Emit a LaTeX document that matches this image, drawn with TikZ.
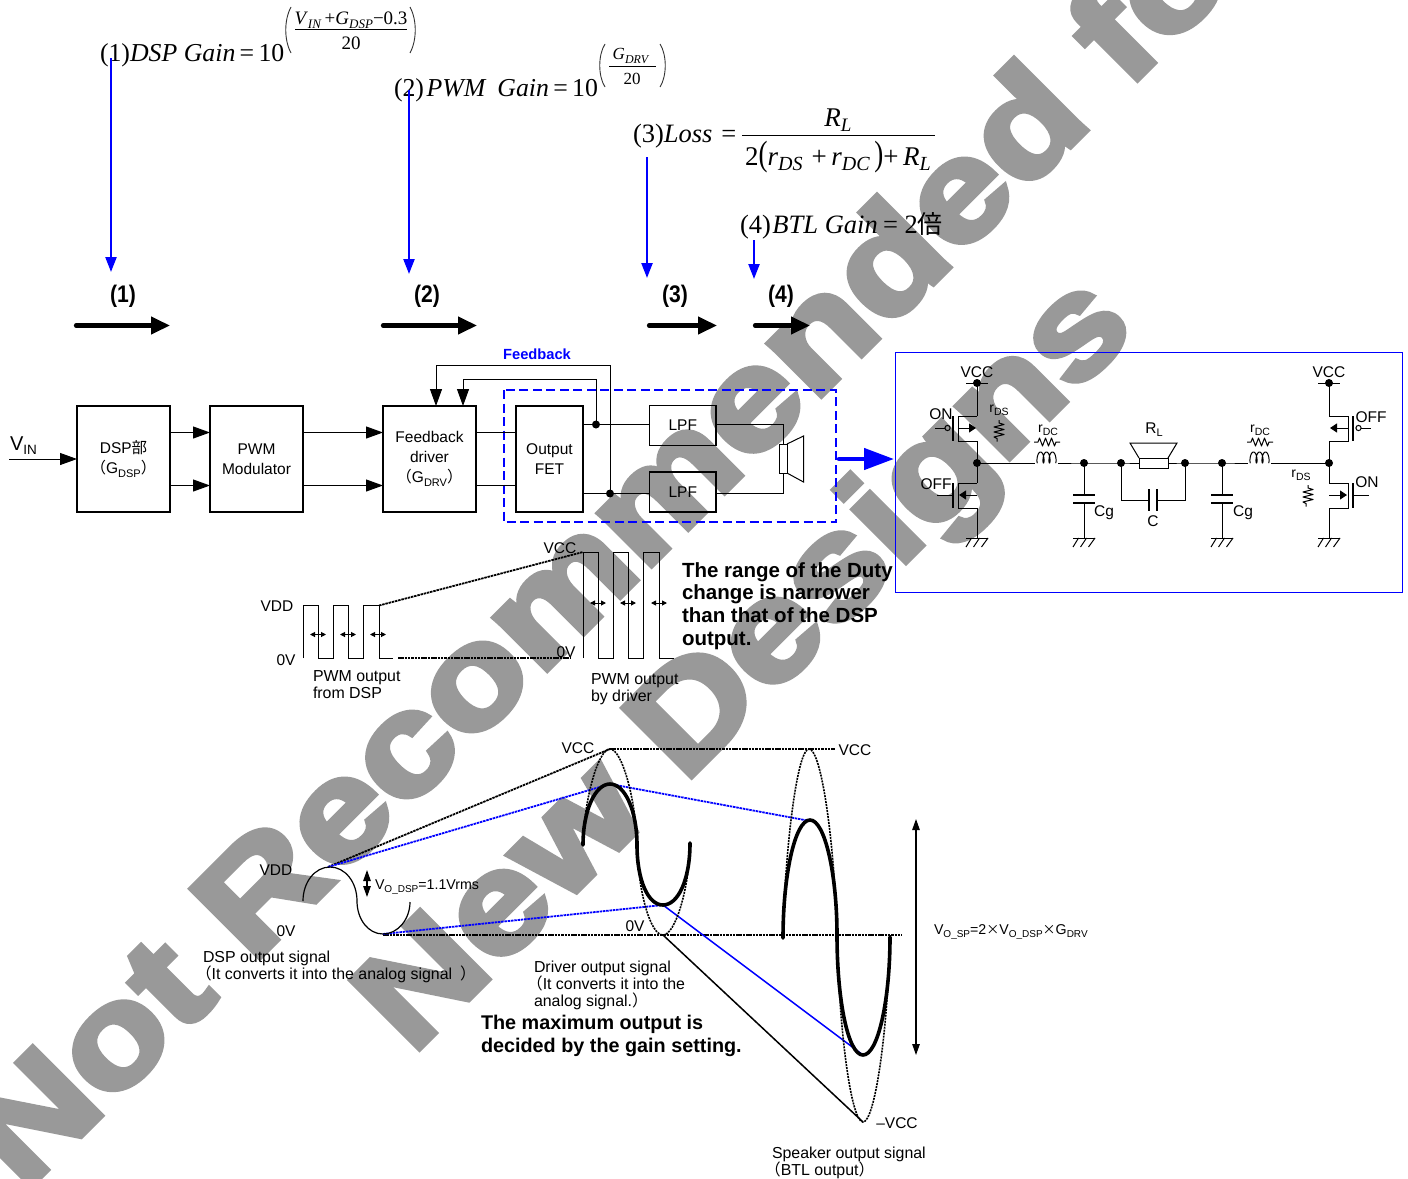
\documentclass[tikz,border=0pt]{standalone}
\usepackage{fontspec}
\setmainfont{Liberation Sans}
\newfontfamily\serif{Liberation Serif}
\newfontfamily\cjk{Noto Sans CJK JP}
\newfontfamily\wmf[BoldFeatures={FakeBold=4}]{Liberation Sans}
\usetikzlibrary{arrows.meta}
\newcommand\fsz[1]{\fontsize{#1}{#1}\selectfont}
\newcommand\dn[2]{\raisebox{-0.22em}{\fsz{#1}#2}}
\definecolor{wm}{HTML}{999999}
\definecolor{bl}{HTML}{0000FF}
\tikzset{
  x=1pt,y=-1pt,
  every node/.style={inner sep=0pt,outer sep=0pt},
  wire/.style={line width=1pt,black},
  blk/.style={draw,line width=1.1pt,align=center,font=\fontsize{15.5}{20}\selectfont},
  harr/.style={wire,-{Triangle[length=17pt,width=12pt]}},
  bigarr/.style={line width=4.2pt,line cap=round,-{Triangle[length=19pt,width=17pt]}},
  bluearr/.style={line width=2.3pt,bl,-{Triangle[length=15pt,width=11pt]}},
  dotn/.style={circle,fill=black,minimum size=8pt},
  lab/.style={font=\fsz{15.5}},
  para/.style={anchor=north west,align=left,font=\fontsize{15.9}{16.7}\selectfont},
  boldp/.style={anchor=north west,align=left,font=\fontsize{20.5}{22.6}\selectfont\bfseries},
  boldq/.style={anchor=north west,align=left,font=\fontsize{19.8}{22.6}\selectfont\bfseries},
  mth/.style={anchor=base west,font=\serif},
  dsh/.style={line width=1.8pt,dash pattern=on 2.5pt off .8pt},
  thick2/.style={line width=3.6pt,line cap=round},
  sdash/.style={line width=1.6pt,dash pattern=on 2pt off 1pt},
  dbl/.style={line width=1pt,arrows={Triangle[length=5pt,width=5pt]-Triangle[length=5pt,width=5pt]}},
  dbl2/.style={line width=1.2pt,arrows={Triangle[length=11pt,width=7.5pt]-Triangle[length=11pt,width=7.5pt]}},
  paren/.style={line width=.9pt,black!80},
  numl/.style={font=\fsz{24}\bfseries},
}
\newcommand\gnd[1]{%
  \draw[wire] (#1-11,538) -- (#1+11,538);
  \draw[wire] (#1-5.5,538) -- (#1-11,547);
  \draw[wire] (#1+2.5,538) -- (#1-3.5,547);
  \draw[wire] (#1+11,538) -- (#1+4.5,547);}
\newcommand\coil[1]{%
  \draw[wire] plot[domain=0:1080,samples=100,smooth] ({#1+2.5+\x/60-1.8*sin(\x)},{463-11*(1-cos(\x))/2});}
\newcommand\resh[2]{%
  \draw[wire,line join=round] (#1,#2) -- ++(4,0) -- ++(1.5,-4) -- ++(3,8) -- ++(3,-8) -- ++(3,8) -- ++(3,-8) -- ++(3,8) -- ++(1.5,-4) -- ++(4,0);}
\newcommand\resv[2]{%
  \draw[wire,line join=round] (#1,#2) -- ++(0,3) -- ++(5,1.5) -- ++(-10,2.5) -- ++(10,2.5) -- ++(-10,2.5) -- ++(10,2.5) -- ++(-10,2.5) -- ++(3,1.5) -- ++(0,3);}
\newcommand\fethi[3]{%
  \begin{scope}[shift={(#1,#2)},xscale=#3]
    \draw[wire] (0,0) -- (-19,0) -- (-19,25) -- (0,25);
    \draw[line width=1.3pt] (-24,0) -- (-24,25);
    \draw[line width=1pt] (-29.5,12) circle (2.6);
    \draw[wire] (-32,12) -- (-42,12);
    \draw[wire,-{Triangle[length=7pt,width=9pt]}] (-19,12) -- (-1,12);
  \end{scope}}
\newcommand\fetlo[3]{%
  \begin{scope}[shift={(#1,#2)},xscale=#3]
    \draw[wire] (0,0) -- (-19,0) -- (-19,25) -- (0,25);
    \draw[line width=1.3pt] (-24,0) -- (-24,25);
    \draw[wire] (-24,12) -- (-40,12);
    \draw[wire,-{Triangle[length=7pt,width=9pt]}] (0,12) -- (-18,12);
  \end{scope}}
\begin{document}
\begin{tikzpicture}
\useasboundingbox (0,0) rectangle (1408,1178);
\fill[white] (0,0) rectangle (1408,1178);
% watermark
\begin{scope}
\clip (0,0) rectangle (1408,1178);
\node[rotate=45,anchor=base west,text=wm,font=\wmf\fsz{141}\bfseries] (wm1) at (24,1193) {\scalebox{1.178}[1]{Not Recommended for}};
\node[rotate=45,anchor=base west,text=wm,font=\wmf\fsz{141}\bfseries] (wm2) at (412,1056) {\scalebox{1.17}[1]{New Designs}};
\end{scope}

% formulas
\node[mth] (f1) at (100,61) {\fsz{25.8}(1)\textit{DSP Gain}\,=\,10};
\coordinate (b1a) at (295,29.5); \coordinate (b1b) at (407,29.5);
\draw[line width=1pt] (b1a) -- (b1b);
\node[mth,anchor=base] (f1n) at (351,24) {\fsz{19}\textit{V}\dn{13}{\textit{IN}}\,+\textit{G}\dn{13}{\textit{DSP}}−0.3};
\node[mth,anchor=base] (f1d) at (351,49) {\fsz{19}20};
\draw[paren] (291,7) .. controls (284,20) and (284,40) .. (291,53);
\draw[paren] (410,7) .. controls (417,20) and (417,40) .. (410,53);

\node[mth] (f2) at (394,96) {\fsz{25.8}(2)\hspace{.1em}\textit{PWM}\hspace{.42em}\textit{Gain}\,=\,10};
\draw[line width=1pt] (609,66) -- (656,66);
\node[mth,anchor=base] (f2n) at (631,59.5) {\fsz{17}\textit{G}\dn{12}{\textit{DRV}}};
\node[mth,anchor=base] (f2d) at (632,84) {\fsz{17}20};
\draw[paren] (605,44) .. controls (598,55) and (598,76) .. (605,87);
\draw[paren] (660,44) .. controls (667,55) and (667,76) .. (660,87);

\node[mth] (f3) at (633,142) {\fsz{26.5}(3)\textit{Loss}\,\,=};
\draw[line width=1pt] (742,135) -- (935,135);
\node[mth,anchor=base] (f3n) at (838,126) {\fsz{27}\textit{R}\dn{19}{\textit{L}}};
\node[mth] (f3d) at (745,165) {\fsz{27}2\scalebox{1}[1.3]{(}\textit{r}\dn{20}{\textit{DS}}\,\,+\,\textit{r}\dn{20}{\textit{DC}}\,\scalebox{1}[1.3]{)}+\,\textit{R}\dn{20}{\textit{L}}};

\node[mth] (f4) at (740,233) {\fsz{26.5}(4)\hspace{.06em}\textit{BTL Gain}\hspace{.2em}=\hspace{.25em}2{\cjk\fsz{25}倍}};

% blue arrows
\coordinate (ba1) at (111,58); \coordinate (bb1) at (111,272);
\coordinate (ba2) at (409,90); \coordinate (bb2) at (409,274);
\coordinate (ba3) at (647,157); \coordinate (bb3) at (647,278);
\coordinate (ba4) at (754,240); \coordinate (bb4) at (754,279);
\draw[bluearr] (ba1) -- (bb1);
\draw[bluearr] (ba2) -- (bb2);
\draw[bluearr] (ba3) -- (bb3);
\draw[bluearr] (ba4) -- (bb4);

% numbered arrows
\node[numl] (n1) at (123,296) {\scalebox{.88}[1]{(1)}};
\node[numl] (n2) at (427,296) {\scalebox{.88}[1]{(2)}};
\node[numl] (n3) at (675,296) {\scalebox{.88}[1]{(3)}};
\node[numl] (n4) at (781,296) {\scalebox{.88}[1]{(4)}};
\coordinate (k1a) at (76,325.5); \coordinate (k1b) at (170,325.5);
\coordinate (k2a) at (383,325.5); \coordinate (k2b) at (477,325.5);
\coordinate (k3a) at (649,325.5); \coordinate (k3b) at (717,325.5);
\coordinate (k4a) at (755,325.5); \coordinate (k4b) at (810,325.5);
\draw[bigarr] (k1a) -- (k1b);
\draw[bigarr] (k2a) -- (k2b);
\draw[bigarr] (k3a) -- (k3b);
\draw[bigarr] (k4a) -- (k4b);

% blocks
\node[blk,minimum width=93pt,minimum height=106pt] (dsp) at (123.5,459) {DSP{\cjk\fsz{15.5}部}\\{\cjk （}G\dn{11}{DSP}{\cjk ）}};
\node[blk,minimum width=93pt,minimum height=106pt] (pwm) at (256.5,459) {PWM\\Modulator};
\node[blk,minimum width=93pt,minimum height=106pt] (drv) at (429.5,459) {Feedback\\driver\\{\cjk （}G\dn{11}{DRV}{\cjk ）}};
\node[blk,minimum width=67pt,minimum height=106pt] (fet) at (549.5,459) {Output\\FET};
\node[blk,minimum width=66.5pt,minimum height=39.5pt] (lpfa) at (682.75,425.5) {LPF};
\node[blk,minimum width=66.5pt,minimum height=40pt] (lpfb) at (682.75,492) {LPF};
\draw[line width=2pt,bl,dash pattern=on 9pt off 4.5pt] (503.5,390) rectangle (836,522);
\node[anchor=base,font=\fsz{14.7}\bfseries,text=bl] (fb) at (537,359) {Feedback};

% block connectors
\coordinate (vin) at (9,459);
\node[anchor=base west] (vint) at (10,450) {\fsz{20}V\dn{13.5}{IN}};
\draw[harr] (vin) -- (dsp.west);
\draw[harr] (dsp.east |- 0,432.5) -- (pwm.west |- 0,432.5);
\draw[harr] (dsp.east |- 0,485.5) -- (pwm.west |- 0,485.5);
\draw[harr] (pwm.east |- 0,432.5) -- (drv.west |- 0,432.5);
\draw[harr] (pwm.east |- 0,485.5) -- (drv.west |- 0,485.5);
\draw[wire] (drv.east |- 0,432.5) -- (fet.west |- 0,432.5);
\draw[wire] (drv.east |- 0,485.5) -- (fet.west |- 0,485.5);
\node[dotn] (fa) at (596,424.5) {};
\node[dotn] (fbd) at (610,493.5) {};
\draw[wire] (fet.east |- fa) -- (fa.center) -- (lpfa.west |- fa);
\draw[wire] (fet.east |- fbd) -- (fbd.center) -- (lpfb.west |- fbd);
\draw[harr] (fa.center) -- (596,379) -- (463,379) -- (463,406);
\draw[harr] (fbd.center) -- (610,365) -- (436,365) -- (436,406);
% speaker
\node[draw,line width=1pt,minimum width=8pt,minimum height=29pt] (spk) at (783,458.5) {};
\draw[wire,line join=miter] (spk.north east) -- (803.5,436) -- (803.5,482) -- (spk.south east);
\draw[wire] (lpfa.east |- fa) -- (783,424.5) -- (spk.north);
\draw[wire] (lpfb.east |- fbd) -- (783,493.5) -- (spk.south);
% thick blue arrow
\coordinate (tb1) at (839,459); \coordinate (tb2) at (894,459);
\draw[line width=4.5pt,bl,line cap=round,-{Triangle[length=30pt,width=21pt]}] (tb1) -- (tb2);

% circuit
\draw[line width=1pt,bl] (895,352) rectangle (1402,592);
\node[dotn] (vl) at (977,383) {};
\node[dotn] (vr) at (1329,383) {};
\node[dotn] (jl) at (977,463) {};
\node[dotn] (jr) at (1329,463) {};
\node[dotn] (j1) at (1084,463) {};
\node[dotn] (j2) at (1121,463) {};
\node[dotn] (j3) at (1185,463) {};
\node[dotn] (j4) at (1222,463) {};
\draw[wire] (966,383) -- (988,383);
\draw[wire] (1318,383) -- (1340,383);
\node[lab] (tv1) at (977,372.5) {VCC};
\node[lab] (tv2) at (1329,372.5) {VCC};
\draw[wire] (vl.center) -- (977,416);
\draw[wire] (977,441) -- (jl.center) -- (977,483);
\draw[wire] (977,508) -- (977,538);
\draw[wire] (vr.center) -- (1329,416);
\draw[wire] (1329,441) -- (jr.center) -- (1329,483);
\draw[wire] (1329,508) -- (1329,538);
\fethi{977}{416}{1}
\fetlo{977}{483}{1}
\fethi{1329}{416}{-1}
\fetlo{1329}{483}{-1}
\node[lab] (ton1) at (941,414.5) {ON};
\node[lab] (tof1) at (936,484.5) {OFF};
\node[lab] (tof2) at (1371,417) {OFF};
\node[lab] (ton2) at (1367,482.5) {ON};
\gnd{977}\gnd{1084}\gnd{1222}\gnd{1329}
% main line and inductors
\draw[wire] (jl.center) -- (1035,463);
\coil{1035}
\draw[wire] (1058,463) -- (j1.center) -- (j2.center) -- (1139,463);
\draw[wire] (1168,463) -- (j3.center) -- (j4.center) -- (1248,463);
\coil{1248}
\draw[wire] (1271,463) -- (jr.center);
\resh{1034}{442}
\resh{1247}{442}
\resv{999}{420}
\resv{1308}{485}
\node[anchor=base] (tr1) at (999,412) {\fsz{14}r\dn{10.5}{DS}};
\node[anchor=base] (tr2) at (1048,432) {\fsz{14}r\dn{10.5}{DC}};
\node[anchor=base] (tr3) at (1260,432) {\fsz{14}r\dn{10.5}{DC}};
\node[anchor=base] (tr4) at (1301,477) {\fsz{14}r\dn{10.5}{DS}};
% speaker in circuit
\node[draw,line width=1pt,minimum width=29pt,minimum height=10pt] (rl) at (1153.5,463) {};
\draw[wire] (rl.north west) -- (1130,443) -- (1177,443) -- (rl.north east);
\node[anchor=base] (trl) at (1154,433) {\fsz{15.5}R\dn{11}{L}};
% caps
\draw[wire] (j1.center) -- (1084,495);
\draw[wire] (1084,503) -- (1084,538);
\draw[line width=1.3pt] (1073,495) -- (1095,495);
\draw[line width=1.3pt] (1073,503) -- (1095,503);
\draw[wire] (j4.center) -- (1222,495);
\draw[wire] (1222,503) -- (1222,538);
\draw[line width=1.3pt] (1211,495) -- (1233,495);
\draw[line width=1.3pt] (1211,503) -- (1233,503);
\draw[wire] (j2.center) -- (1121,500) -- (1149,500);
\draw[wire] (j3.center) -- (1185,500) -- (1157,500);
\draw[line width=1.3pt] (1149,489) -- (1149,511);
\draw[line width=1.3pt] (1157,489) -- (1157,511);
\node[lab] (tcg1) at (1104,513) {Cg};
\node[lab] (tcg2) at (1243,513) {Cg};
\node[lab] (tc) at (1153,521.5) {C};

% PWM waveforms
\draw[wire] (303,658) -- (303,605.5) -- (318,605.5) -- (318,658) -- (333,658) -- (333,605.5) -- (348,605.5) -- (348,658) -- (363,658) -- (363,605.5) -- (379,605.5) -- (379,658) -- (393,658);
\draw[wire] (583,658) -- (583,552) -- (598,552) -- (598,658) -- (613,658) -- (613,552) -- (628,552) -- (628,658) -- (643,658) -- (643,552) -- (659,552) -- (659,658) -- (674,658);
\draw[dbl] (310,634.5) -- (326,634.5);
\draw[dbl] (340,634.5) -- (356,634.5);
\draw[dbl] (370,634.5) -- (386,634.5);
\draw[dbl] (590,603) -- (606,603);
\draw[dbl] (620,603) -- (636,603);
\draw[dbl] (651,603) -- (667,603);
\draw[dsh] (379,605.5) -- (583,552);
\draw[dsh] (398,658) -- (570,658);
\node[lab] (t1) at (277,606.5) {VDD};
\node[lab] (t2) at (286,660.5) {0V};
\node[lab] (t3) at (560,548.5) {VCC};
\node[lab] (t4) at (566,652.5) {0V};
\node[para] (t5) at (313,670.5) {PWM output\\from DSP};
\node[para] (t6) at (591,673.5) {PWM output\\by driver};
\node[boldp] (t7) at (682,562.5) {The range of the Duty\\change is narrower\\than that of the DSP\\output.};

% signal section
\draw[dsh] (610,749) -- (835,749);
\draw[dsh] (383,935) -- (902,935);
\draw[dsh] (328,867) -- (610,749);
\draw[dsh,bl] (328,867) -- (610,784) -- (810,821);
\draw[dsh,bl] (383,934) -- (663,905);
\draw[line width=1.5pt,bl] (663,905) -- (863,1055);
\draw[line width=1.5pt] (663,935) -- (863,1122);
% DSP thin
\draw[line width=1.2pt] (303,901) .. controls (303,882) and (315,867) .. (330,867) .. controls (345,867) and (357,882) .. (357,901) .. controls (357,919) and (368,934) .. (383,934) .. controls (398,934) and (410,919) .. (410,902);
% driver
\draw[sdash] (583,845) .. controls (584,800) and (598,749) .. (610,749) .. controls (622,749) and (636,800) .. (637,845) .. controls (638,890) and (650,935) .. (663,935) .. controls (675,935) and (689,890) .. (690,845);
\draw[thick2] (583,845) .. controls (583,811) and (595,784) .. (610,784) .. controls (625,784) and (637,811) .. (637,845) .. controls (637,880) and (648,905) .. (663,905) .. controls (678,905) and (690,880) .. (690,843);
% speaker signal
\draw[sdash] (783,935) .. controls (785,850) and (797,749) .. (809,749) .. controls (822,749) and (835,850) .. (837,935) .. controls (839,1030) and (851,1122) .. (863,1122) .. controls (875,1122) and (888,1030) .. (890,935);
\draw[thick2] (783,938) .. controls (783,875) and (795,820) .. (810,820) .. controls (825,820) and (837,875) .. (837,935) .. controls (837,1000) and (848,1055) .. (863,1055) .. controls (878,1055) and (890,1000) .. (890,937);
\coordinate (da1) at (916,819); \coordinate (da2) at (916,1055);
\draw[dbl2] (da1) -- (da2);
\coordinate (db1) at (367,870); \coordinate (db2) at (367,897);
\draw[dbl2] (db1) -- (db2);
\node[anchor=base west] (tvd) at (375,889) {\fsz{14.2}V\dn{10}{O\_DSP}=1.1Vrms};
\node[anchor=base west] (tvs) at (934,934) {\fsz{14.2}V\dn{10}{O\_SP}=2{\cjk\fsz{13}×}V\dn{10}{O\_DSP}{\cjk\fsz{13}×}G\dn{10}{DRV}};
\node[lab] (s1) at (276,870.5) {VDD};
\node[lab] (s2) at (286,931.5) {0V};
\node[lab] (s3) at (578,748) {VCC};
\node[lab] (s4) at (855,750.5) {VCC};
\node[lab] (s5) at (635,926.5) {0V};
\node[lab] (s6) at (897,1123.5) {--VCC};
\node[para] (s7) at (203,950.5) {DSP output signal\\\hspace*{-.45em}{\cjk （}It converts it into the analog signal\hspace{.5em}{\cjk ）}};
\node[para] (s8) at (534,960.5) {Driver output signal\\\hspace*{-.45em}{\cjk （}It converts it into the\\analog signal.{\cjk ）}};
\node[boldq] (s9) at (481,1015.5) {The maximum output is\\decided by the gain setting.};
\node[para] (s10) at (772,1146.5) {Speaker output signal\\\hspace*{-.45em}{\cjk （}BTL output{\cjk ）}};
\end{tikzpicture}
\end{document}
